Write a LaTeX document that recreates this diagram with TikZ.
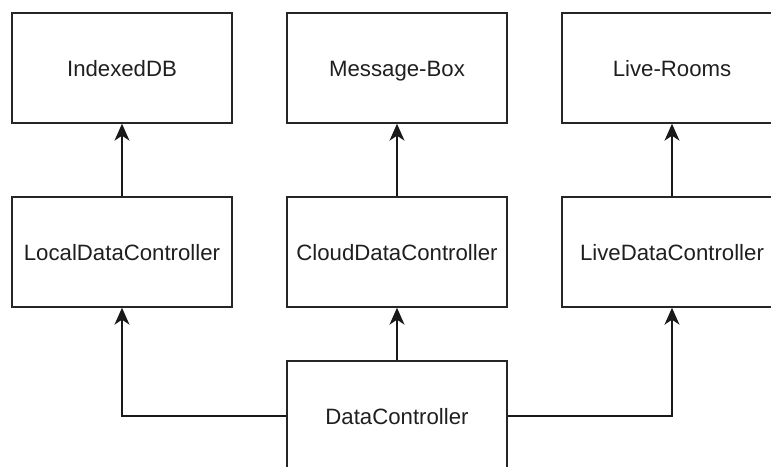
\documentclass[tikz,border=0pt]{standalone}
\usepackage{fontspec}
\setmainfont{Liberation Sans}
\usetikzlibrary{arrows.meta}
\begin{document}
\begin{tikzpicture}[x=1pt,y=-1pt,
  box/.style={draw=black!85, line width=1.4pt, minimum width=220pt, minimum height=110pt,
    inner sep=0pt, text height=18pt, text depth=1.2pt,
    font=\fontsize{22.2pt}{26pt}\selectfont, text=black!88},
  link/.style={draw=black!90, line width=1.4pt,
    -{Stealth[length=17pt,width=15pt,inset=5pt]}}]
  \useasboundingbox (0,0) rectangle (771,466);
  \clip (0,0) rectangle (771,466);
  % storage back-ends
  \node[box] (idb)  at (122,68)  {IndexedDB};
  \node[box] (mbox) at (397,68)  {Message-Box};
  \node[box] (live) at (672,68)  {Live-Rooms};
  % controllers
  \node[box] (ldc)  at (122,252) {LocalDataController};
  \node[box] (cdc)  at (397,252) {CloudDataController};
  \node[box] (lvdc) at (672,252) {LiveDataController};
  % root controller
  \node[box] (dc)   at (397,416) {DataController};
  % connectors
  \draw[link] (ldc.north)  -- (idb.south);
  \draw[link] (cdc.north)  -- (mbox.south);
  \draw[link] (lvdc.north) -- (live.south);
  \draw[link] (dc.north)   -- (cdc.south);
  \draw[link] (dc.west)    -| (ldc.south);
  \draw[link] (dc.east)    -| (lvdc.south);
\end{tikzpicture}
\end{document}
